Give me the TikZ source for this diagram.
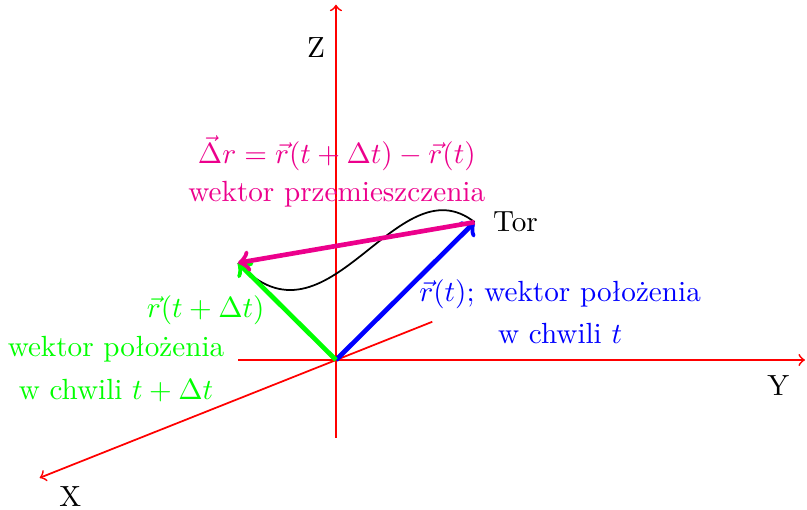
\documentclass[tikz,border=0pt]{standalone}
\usepackage{xcolor}
\definecolor{Przem}{cmyk}{0,1,0,0}
\usetikzlibrary{positioning}

\begin{document}
\begin{tikzpicture}[
  os/.style={->, red, semithick},
  wektor/.style={->, ultra thick},
  opis/.style={align=center},
]
\useasboundingbox (-4.048,-1.807) rectangle (5.675,4.337);

% uklad wspolrzednych
\coordinate (O)  at (0,0);
\coordinate (Yp) at (-1.18,0);
\coordinate (Yk) at (5.65,0);
\coordinate (Zp) at (0,-0.94);
\coordinate (Zk) at (0,4.28);
\coordinate (Xp) at (1.16,0.46);
\coordinate (Xk) at (-3.57,-1.42);

\draw[os] (Yp) -- (Yk);
\draw[os] (Zp) -- (Zk);
\draw[os] (Xp) -- (Xk);

\node (Zlab) at (-0.24,3.77) {Z};
\node (Ylab) at (5.33,-0.31) {Y};
\node (Xlab) at (-3.20,-1.65) {X};

% tor i wektory
\coordinate (A) at (1.67,1.66);
\coordinate (B) at (-1.18,1.17);

\draw[semithick] (B) .. controls (-0.1,0.0) and (0.73,2.4) .. (A);
\node[right=1mm of A] (tor) {Tor};

\draw[wektor, blue]  (O) -- (A);
\draw[wektor, green] (O) -- (B);
\draw[wektor, Przem] (A) -- (B);

% opisy
\node[opis, Przem] (dr) at (0.01,2.27)
  {$\vec{\Delta} r = \vec{r}(t+\Delta t) - \vec{r}(t)$\\[1pt]
   wektor przemieszczenia};
\node[opis, blue] (rt) at (2.70,0.58)
  {$\vec{r}(t)$; wektor położenia\\[2.4pt]
   w chwili $t$};
\node[green] (rdt) at (-1.57,0.60) {$\vec{r}(t+\Delta t)$};
\node[opis, green] (rdtopis) at (-2.65,-0.11)
  {wektor położenia\\[2.4pt]
   w chwili $t+\Delta t$};

\end{tikzpicture}
\end{document}
